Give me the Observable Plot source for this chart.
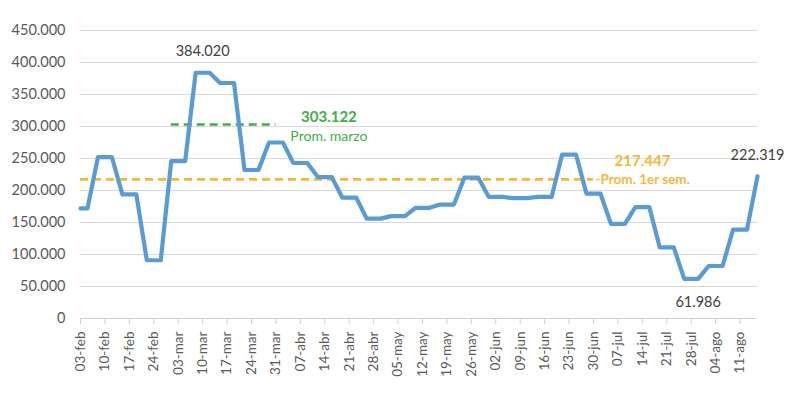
<!DOCTYPE html>
<html>
<head>
<meta charset="utf-8">
<script src="https://cdn.jsdelivr.net/npm/d3@7"></script>
<script src="https://cdn.jsdelivr.net/npm/@observablehq/plot@0.6"></script>
<style>
  html, body { margin: 0; padding: 0; background: #fff; }
  #chart { width: 800px; height: 396px; }
</style>
</head>
<body>
<div id="chart"></div>
<script>
// Weekly tick dates and their labels
const tickDates = ["2021-02-03","2021-02-10","2021-02-17","2021-02-24","2021-03-03","2021-03-10","2021-03-17","2021-03-24","2021-03-31","2021-04-07","2021-04-14","2021-04-21","2021-04-28","2021-05-05","2021-05-12","2021-05-19","2021-05-26","2021-06-02","2021-06-09","2021-06-16","2021-06-23","2021-06-30","2021-07-07","2021-07-14","2021-07-21","2021-07-28","2021-08-04","2021-08-11"];
const tickLabels = ["03-feb","10-feb","17-feb","24-feb","03-mar","10-mar","17-mar","24-mar","31-mar","07-abr","14-abr","21-abr","28-abr","05-may","12-may","19-may","26-may","02-jun","09-jun","16-jun","23-jun","30-jun","07-jul","14-jul","21-jul","28-jul","04-ago","11-ago"];

// Series points
const pointDates = ["2021-02-03","2021-02-05","2021-02-08","2021-02-12","2021-02-15","2021-02-19","2021-02-22","2021-02-26","2021-03-01","2021-03-05","2021-03-08","2021-03-12","2021-03-15","2021-03-19","2021-03-22","2021-03-26","2021-03-29","2021-04-02","2021-04-05","2021-04-09","2021-04-12","2021-04-16","2021-04-19","2021-04-23","2021-04-26","2021-04-30","2021-05-03","2021-05-07","2021-05-10","2021-05-14","2021-05-17","2021-05-21","2021-05-24","2021-05-28","2021-05-31","2021-06-04","2021-06-07","2021-06-11","2021-06-14","2021-06-18","2021-06-21","2021-06-25","2021-06-28","2021-07-02","2021-07-05","2021-07-09","2021-07-12","2021-07-16","2021-07-19","2021-07-23","2021-07-26","2021-07-30","2021-08-02","2021-08-06","2021-08-09","2021-08-13","2021-08-16"];
const pointValues = [172000,172000,252000,252000,194000,194000,91000,91000,246000,246000,384020,384020,368000,368000,232000,232000,275000,275000,243000,243000,221000,221000,189000,189000,156000,156000,160000,160000,173000,173000,178000,178000,220000,220000,190000,190000,188000,188000,190000,190000,256000,256000,195000,195000,148000,148000,174000,174000,111000,111000,61986,61986,82000,82000,139000,139000,222319];

// Y ticks
const yTicks = [0,50000,100000,150000,200000,250000,300000,350000,400000,450000];

// Averages
const avgMarzo = 303122;
const avgMarzoRange = ["2021-03-01","2021-03-31"];
const avgSem = 217447;
const avgSemRange = ["2021-02-03","2021-06-30"];

// Value labels on the series
const labelDates = ["2021-03-10","2021-07-30","2021-08-16"];
const labelValues = [384020,61986,222319];
const labelOffsets = [-21,24,-21];

const parse = d3.utcParse("%Y-%m-%d");
const locale = d3.formatLocale({decimal: ",", thousands: ".", grouping: [3], currency: ["", ""]});
const fmt = locale.format(",d");
const labelMap = new Map(tickDates.map((d, i) => [+parse(d), tickLabels[i]]));

const data = pointDates.map((d, i) => ({date: parse(d), value: pointValues[i]}));
const labels = labelDates.map((d, i) => ({date: parse(d), value: labelValues[i], dy: labelOffsets[i]}));

const green = "#3fae49";
const orange = "#f5b73b";

const chart = Plot.plot({
  width: 800,
  height: 396,
  marginLeft: 80,
  marginRight: 43,
  marginTop: 30,
  marginBottom: 78,
  style: {fontFamily: "Lato, 'Open Sans', sans-serif", fontSize: "14px", color: "#595959", background: "#fff"},
  x: {type: "utc", domain: [parse("2021-02-03"), parse("2021-08-16")]},
  y: {domain: [0, 450000]},
  marks: [
    Plot.gridY(yTicks, {stroke: "#d9d9d9", strokeOpacity: 1, strokeWidth: 1.2}),
    Plot.axisY(yTicks, {tickFormat: fmt, tickSize: 0, tickPadding: 15, fontSize: 14.5, label: null, fill: "#595959"}),
    Plot.axisX(tickDates.map(parse), {tickFormat: d => labelMap.get(+d), tickRotate: -90, tickSize: 6, tickPadding: 7, stroke: "#d0d0d0", fontSize: 13.5, label: null, fill: "#595959"}),
    Plot.ruleY([0], {stroke: "#d0d0d0", strokeWidth: 1.2}),
    Plot.ruleY([{y: avgSem, x1: parse(avgSemRange[0]), x2: parse(avgSemRange[1])}],
      {y: "y", x1: "x1", x2: "x2", stroke: orange, strokeWidth: 2.6, strokeDasharray: "8,5"}),
    Plot.ruleY([{y: avgMarzo, x1: parse(avgMarzoRange[0]), x2: parse(avgMarzoRange[1])}],
      {y: "y", x1: "x1", x2: "x2", stroke: green, strokeWidth: 2.6, strokeDasharray: "8,5"}),
    Plot.lineY(data, {x: "date", y: "value", stroke: "#5b9bd5", strokeWidth: 4.2, strokeLinejoin: "round", strokeLinecap: "round"}),
    ...labels.map(l => Plot.text([l], {x: "date", y: "value", dy: l.dy, text: d => fmt(d.value), fontSize: 14.5, fill: "#404040"})),
    Plot.text([{x: parse(avgMarzoRange[1]), y: avgMarzo}], {x: "x", y: "y", dx: 53, dy: -7, text: () => fmt(avgMarzo), fontSize: 15, fontWeight: "bold", fill: green}),
    Plot.text([{x: parse(avgMarzoRange[1]), y: avgMarzo}], {x: "x", y: "y", dx: 53, dy: 12, text: () => "Prom. marzo", fontSize: 14, fill: green}),
    Plot.text([{x: parse(avgSemRange[1]), y: avgSem}], {x: "x", y: "y", dx: 49, dy: -18, text: () => fmt(avgSem), fontSize: 15, fontWeight: "bold", fill: orange}),
    Plot.text([{x: parse(avgSemRange[1]), y: avgSem}], {x: "x", y: "y", dx: 2, dy: 0, text: () => "-Prom. 1er sem.", textAnchor: "start", fontSize: 13.5, fontWeight: "bold", fill: orange})
  ]
});
document.getElementById("chart").append(chart);
</script>
</body>
</html>
